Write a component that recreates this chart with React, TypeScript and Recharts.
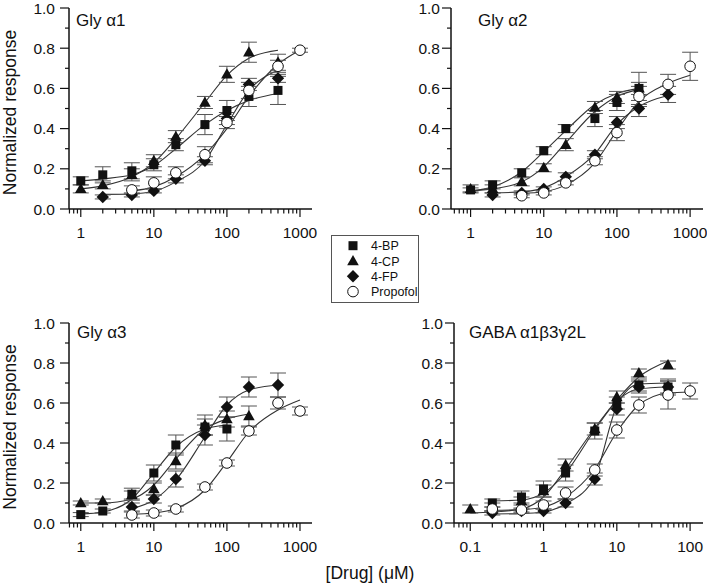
import React from 'react';
import { ComposedChart, Line, Scatter, XAxis, YAxis, ErrorBar, Legend } from 'recharts';

type Pt = { x: number; y: number; e: number };
type CPt = { x: number; y: number };

const pts = (rows: number[][]): Pt[] => rows.map(([x, y, e]) => ({ x, y, e }));
const crv = (rows: number[][]): CPt[] => rows.map(([x, y]) => ({ x, y }));

const drugs = ['4-BP', '4-CP', '4-FP', 'Propofol'];
const yTicks = [0, 0.1, 0.2, 0.3, 0.4, 0.5, 0.6, 0.7, 0.8, 0.9, 1.0];

// Gly a1
const bp1 = pts([[1, 0.14, 0.02], [2, 0.17, 0.04], [5, 0.19, 0.04], [10, 0.22, 0.03], [20, 0.32, 0.03], [50, 0.42, 0.05], [100, 0.49, 0.05], [200, 0.56, 0.05], [500, 0.59, 0.07]]);
const cp1 = pts([[1, 0.10, 0.02], [2, 0.12, 0.02], [5, 0.17, 0.03], [10, 0.24, 0.03], [20, 0.36, 0.03], [50, 0.53, 0.03], [100, 0.67, 0.04], [200, 0.78, 0.05], [500, 0.73, 0.04]]);
const fp1 = pts([[2, 0.06, 0.01], [5, 0.07, 0.01], [10, 0.09, 0.01], [20, 0.15, 0.02], [50, 0.24, 0.02], [100, 0.45, 0.03], [200, 0.62, 0.03], [500, 0.65, 0.02]]);
const pro1 = pts([[5, 0.095, 0.02], [10, 0.13, 0.03], [20, 0.18, 0.03], [50, 0.27, 0.04], [100, 0.43, 0.03], [200, 0.59, 0.04], [500, 0.71, 0.03], [1000, 0.79, 0.01]]);
const bp1Fit = crv([[1, 0.14], [2, 0.15], [5, 0.17], [10, 0.215], [20, 0.3], [50, 0.42], [100, 0.49], [200, 0.54], [500, 0.575]]);
const cp1Fit = crv([[1, 0.1], [2, 0.115], [5, 0.16], [10, 0.23], [20, 0.35], [50, 0.53], [100, 0.665], [200, 0.75], [500, 0.79]]);
const fp1Fit = crv([[2, 0.073], [5, 0.075], [10, 0.088], [20, 0.135], [50, 0.24], [100, 0.42], [200, 0.59], [500, 0.69]]);
const pro1Fit = crv([[5, 0.09], [10, 0.11], [20, 0.16], [50, 0.27], [100, 0.4], [200, 0.56], [500, 0.72], [1000, 0.79]]);

// Gly a2
const bp2 = pts([[1, 0.095, 0.01], [2, 0.12, 0.02], [5, 0.18, 0.02], [10, 0.29, 0.02], [20, 0.4, 0.02], [50, 0.45, 0.04], [100, 0.53, 0.04], [200, 0.6, 0.08]]);
const cp2 = pts([[1, 0.1, 0.02], [2, 0.1, 0.02], [5, 0.135, 0.02], [10, 0.205, 0.02], [20, 0.32, 0.03], [50, 0.505, 0.03], [100, 0.555, 0.03], [200, 0.6, 0.03]]);
const fp2 = pts([[2, 0.07, 0.01], [5, 0.08, 0.01], [10, 0.1, 0.01], [20, 0.16, 0.02], [50, 0.27, 0.02], [100, 0.43, 0.03], [200, 0.5, 0.04], [500, 0.57, 0.04]]);
const pro2 = pts([[5, 0.066, 0.01], [10, 0.08, 0.01], [20, 0.13, 0.01], [50, 0.24, 0.02], [100, 0.38, 0.04], [200, 0.56, 0.05], [500, 0.62, 0.05], [1000, 0.71, 0.07]]);
const bp2Fit = crv([[1, 0.09], [2, 0.11], [5, 0.185], [10, 0.285], [20, 0.39], [50, 0.52], [100, 0.575], [200, 0.6]]);
const cp2Fit = crv([[1, 0.09], [2, 0.1], [5, 0.135], [10, 0.21], [20, 0.33], [50, 0.485], [100, 0.56], [200, 0.595]]);
const fp2Fit = crv([[2, 0.08], [5, 0.085], [10, 0.105], [20, 0.16], [50, 0.275], [100, 0.42], [200, 0.51], [500, 0.565]]);
const pro2Fit = crv([[5, 0.078], [10, 0.086], [20, 0.12], [50, 0.23], [100, 0.39], [200, 0.535], [500, 0.625], [1000, 0.665]]);

// Gly a3
const bp3 = pts([[1, 0.042, 0.01], [2, 0.06, 0.01], [5, 0.144, 0.03], [10, 0.25, 0.04], [20, 0.39, 0.05], [50, 0.48, 0.04], [100, 0.47, 0.06]]);
const cp3 = pts([[1, 0.1, 0.01], [2, 0.11, 0.01], [5, 0.14, 0.02], [10, 0.17, 0.03], [20, 0.31, 0.04], [50, 0.49, 0.05], [100, 0.52, 0.04], [200, 0.535, 0.05]]);
const fp3 = pts([[5, 0.08, 0.02], [10, 0.12, 0.02], [20, 0.22, 0.04], [50, 0.44, 0.05], [100, 0.58, 0.05], [200, 0.68, 0.05], [500, 0.69, 0.06]]);
const pro3 = pts([[5, 0.04, 0.015], [10, 0.05, 0.015], [20, 0.07, 0.015], [50, 0.18, 0.015], [100, 0.3, 0.015], [200, 0.46, 0.02], [500, 0.6, 0.03], [1000, 0.56, 0.02]]);
const bp3Fit = crv([[1, 0.045], [2, 0.055], [5, 0.12], [10, 0.25], [20, 0.38], [50, 0.47], [100, 0.49]]);
const cp3Fit = crv([[1, 0.1], [2, 0.1], [5, 0.12], [10, 0.19], [20, 0.32], [50, 0.47], [100, 0.52], [200, 0.545]]);
const fp3Fit = crv([[5, 0.072], [10, 0.115], [20, 0.215], [50, 0.43], [100, 0.59], [200, 0.665], [500, 0.69]]);
const pro3Fit = crv([[5, 0.044], [10, 0.05], [20, 0.072], [50, 0.165], [100, 0.305], [200, 0.455], [500, 0.565], [1000, 0.615]]);

// GABA a1b3g2L
const bp4 = pts([[0.2, 0.1, 0.02], [0.5, 0.13, 0.03], [1, 0.17, 0.04], [2, 0.25, 0.04], [5, 0.46, 0.04], [10, 0.6, 0.03], [20, 0.69, 0.03], [50, 0.68, 0.04]]);
const cp4 = pts([[0.1, 0.07, 0.02], [0.2, 0.08, 0.02], [0.5, 0.11, 0.02], [1, 0.16, 0.03], [2, 0.29, 0.03], [5, 0.47, 0.03], [10, 0.63, 0.03], [20, 0.75, 0.02], [50, 0.79, 0.02]]);
const fp4 = pts([[0.2, 0.05, 0.01], [0.5, 0.06, 0.01], [1, 0.06, 0.01], [2, 0.1, 0.02], [5, 0.22, 0.03], [10, 0.57, 0.03], [20, 0.68, 0.03], [50, 0.68, 0.03]]);
const pro4 = pts([[0.2, 0.07, 0.01], [0.5, 0.065, 0.01], [1, 0.09, 0.02], [2, 0.15, 0.03], [5, 0.265, 0.03], [10, 0.465, 0.04], [20, 0.59, 0.04], [50, 0.64, 0.07], [100, 0.66, 0.04]]);
const bp4Fit = crv([[0.2, 0.11], [0.5, 0.115], [1, 0.15], [2, 0.25], [5, 0.465], [10, 0.61], [20, 0.67], [50, 0.68]]);
const cp4Fit = crv([[0.1, 0.05], [0.2, 0.055], [0.5, 0.07], [1, 0.13], [2, 0.27], [5, 0.475], [10, 0.615], [20, 0.73], [50, 0.81]]);
const fp4Fit = crv([[0.2, 0.045], [0.5, 0.047], [1, 0.055], [2, 0.095], [5, 0.23], [10, 0.585], [20, 0.695], [50, 0.7]]);
const pro4Fit = crv([[0.2, 0.064], [0.5, 0.067], [1, 0.08], [2, 0.13], [5, 0.27], [10, 0.455], [20, 0.59], [50, 0.65], [100, 0.655]]);

const INK = '#111';

// log minor/major ticks inside a domain
const logTicks = (lo: number, hi: number) => {
  const out: number[] = [];
  for (let p = -2; p <= 3; p++) {
    for (let m = 1; m <= 9; m++) {
      const v = Number((m * Math.pow(10, p)).toPrecision(3));
      if (v >= lo && v <= hi) out.push(v);
    }
  }
  return out;
};
const isMajor = (v: number) => Math.abs(Math.log10(v) - Math.round(Math.log10(v))) < 1e-6;

const marker = (i: number, cx: number, cy: number) => {
  if (i === 0) return <rect x={cx - 4.5} y={cy - 4.5} width={9} height={9} fill={INK} />;
  if (i === 1) return <polygon points={`${cx},${cy - 6} ${cx + 5.8},${cy + 4.2} ${cx - 5.8},${cy + 4.2}`} fill={INK} />;
  if (i === 2) return <polygon points={`${cx},${cy - 6.2} ${cx + 6.2},${cy} ${cx},${cy + 6.2} ${cx - 6.2},${cy}`} fill={INK} />;
  return <circle cx={cx} cy={cy} r={5.3} fill="#fff" stroke={INK} strokeWidth={1} />;
};

const LegendBox = () => (
  <svg width={88} height={69}>
    <rect x={0.5} y={0.5} width={87} height={67} fill="#fff" stroke="#555" strokeWidth={1} />
    {drugs.map((d, i) => {
      const cy = 10.7 + i * 15.3;
      return (
        <g key={d}>
          {marker(i, 22, cy)}
          <text x={40} y={cy + 4.5} fontSize={12.5} fill={INK}>{d}</text>
        </g>
      );
    })}
  </svg>
);

interface PanelProps {
  title: string;
  points: Pt[][];
  fits: CPt[][];
  domain: [number, number];
  left: number;
  top: number;
  w: number;
  h: number;
  lm: number;
  tm: number;
  rm: number;
  bm: number;
  labelGap: number;
  titleX: number;
  titleY: number;
  yLabel?: boolean;
  xLabel?: boolean;
  legend?: boolean;
}

const Panel = (p: PanelProps) => {
  const axisY = p.tm + p.h;
  const axisX = p.lm;
  const ticks = logTicks(p.domain[0], p.domain[1]);
  const fmt = (v: number) => (v < 1 ? v.toFixed(1) : String(v));
  return (
    <div style={{ position: 'absolute', left: p.left - p.lm, top: p.top - p.tm }}>
      <ComposedChart
        width={p.lm + p.w + p.rm}
        height={p.tm + p.h + p.bm}
        margin={{ top: p.tm, right: p.rm, bottom: 0, left: 0 }}
      >
        <XAxis
          type="number"
          dataKey="x"
          scale="log"
          domain={p.domain}
          allowDataOverflow
          ticks={ticks}
          interval={0}
          height={p.bm}
          tickLine={false}
          axisLine={{ stroke: INK, strokeWidth: 1.5 }}
          tick={(t: any) => {
            const major = isMajor(t.payload.value);
            return (
              <g>
                <line x1={t.x} x2={t.x} y1={axisY} y2={axisY + (major ? 8 : 4.5)} stroke={INK} strokeWidth={1.2} />
                {major && (
                  <text x={t.x} y={axisY + 29} textAnchor="middle" fontSize={15.5} fill={INK}>
                    {fmt(t.payload.value)}
                  </text>
                )}
              </g>
            );
          }}
        />
        <YAxis
          type="number"
          dataKey="y"
          domain={[0, 1]}
          allowDataOverflow
          ticks={yTicks}
          interval={0}
          width={p.lm}
          tickLine={false}
          axisLine={{ stroke: INK, strokeWidth: 1.5 }}
          tick={(t: any) => {
            const v = t.payload.value;
            const major = Math.round(v * 10) % 2 === 0;
            return (
              <g>
                <line x1={axisX - (major ? 9 : 4)} x2={axisX} y1={t.y} y2={t.y} stroke={INK} strokeWidth={1.2} />
                {major && (
                  <text x={axisX - p.labelGap} y={t.y + 5.5} textAnchor="end" fontSize={15.5} fill={INK}>
                    {v.toFixed(1)}
                  </text>
                )}
              </g>
            );
          }}
        />
        {p.fits.map((f, i) => (
          <Line
            key={'f' + i}
            data={f}
            dataKey="y"
            type="monotone"
            dot={false}
            activeDot={false}
            stroke="#333"
            strokeWidth={1.1}
            legendType="none"
            isAnimationActive={false}
          />
        ))}
        {p.points.map((s, i) => (
          <Scatter
            key={'s' + i}
            name={drugs[i]}
            data={s}
            dataKey="y"
            isAnimationActive={false}
            shape={(sp: any) => marker(i, sp.cx, sp.cy)}
          >
            <ErrorBar dataKey="e" direction="y" width={8} stroke="#555" strokeWidth={1} />
          </Scatter>
        ))}
        <text x={p.lm + p.titleX} y={p.tm + p.titleY} fontSize={17} fill={INK}>
          {p.title}
        </text>
        {p.yLabel && (
          <text
            x={9.5}
            y={p.tm + p.h / 2 + 4}
            transform={`rotate(-90 9.5 ${p.tm + p.h / 2 + 4})`}
            textAnchor="middle"
            dominantBaseline="central"
            fontSize={17.5}
            fill={INK}
          >
            Normalized response
          </text>
        )}
        {p.xLabel && (
          <text x={370} y={p.tm + p.h + 56} textAnchor="middle" fontSize={17.5} fill={INK}>
            [Drug] (μM)
          </text>
        )}
        {p.legend && (
          <Legend
            layout="horizontal"
            verticalAlign="middle"
            align="center"
            content={() => <LegendBox />}
            wrapperStyle={{ position: 'absolute', left: 331, top: 235, width: 88, height: 69 }}
          />
        )}
      </ComposedChart>
    </div>
  );
};

export default function App() {
  return (
    <div
      style={{
        position: 'absolute',
        left: 0,
        top: 0,
        width: 709,
        height: 583,
        background: '#fff',
        fontFamily: '"Liberation Sans", Arial, sans-serif',
      }}
    >
      <Panel
        title="Gly α1"
        points={[bp1, cp1, fp1, pro1]}
        fits={[bp1Fit, cp1Fit, fp1Fit, pro1Fit]}
        domain={[0.69, 1460]}
        left={69} top={8} w={243} h={201}
        lm={69} tm={8} rm={10} bm={42}
        labelGap={14} titleX={7} titleY={18}
        yLabel legend
      />
      <Panel
        title="Gly α2"
        points={[bp2, cp2, fp2, pro2]}
        fits={[bp2Fit, cp2Fit, fp2Fit, pro2Fit]}
        domain={[0.54, 1500]}
        left={451} top={8} w={252} h={201}
        lm={60} tm={8} rm={4} bm={42}
        labelGap={11} titleX={27} titleY={18}
      />
      <Panel
        title="Gly α3"
        points={[bp3, cp3, fp3, pro3]}
        fits={[bp3Fit, cp3Fit, fp3Fit, pro3Fit]}
        domain={[0.69, 1460]}
        left={69} top={323} w={243} h={200}
        lm={69} tm={20} rm={130} bm={60}
        labelGap={14} titleX={8} titleY={15}
        yLabel xLabel
      />
      <Panel
        title="GABA α1β3γ2L"
        points={[bp4, cp4, fp4, pro4]}
        fits={[bp4Fit, cp4Fit, fp4Fit, pro4Fit]}
        domain={[0.06, 150]}
        left={454} top={323} w={249} h={200}
        lm={60} tm={20} rm={4} bm={42}
        labelGap={11} titleX={15} titleY={15}
      />
    </div>
  );
}
